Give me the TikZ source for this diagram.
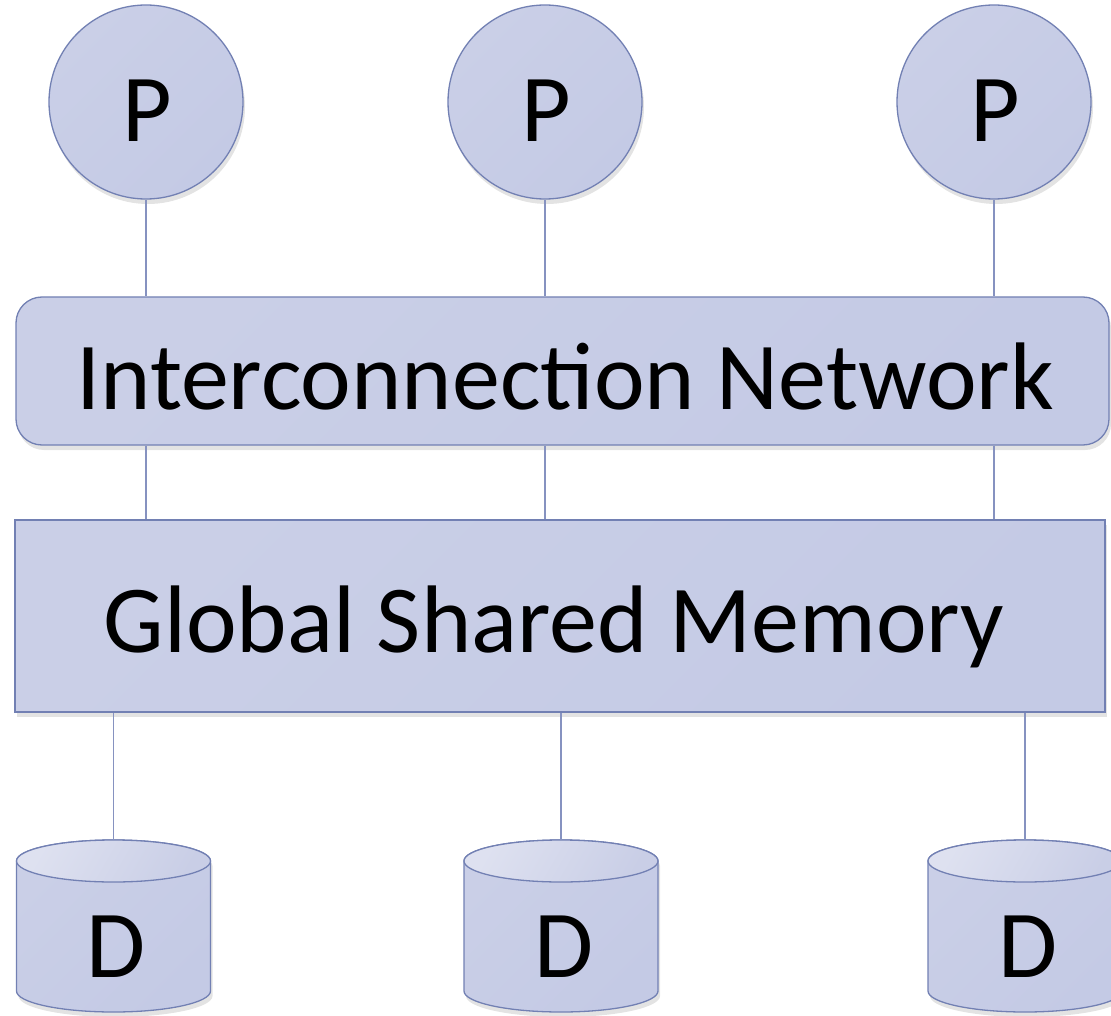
\documentclass[tikz,border=0pt]{standalone}
\usepackage{fontspec}
\setmainfont{Carlito}
\usetikzlibrary{shadows}
\definecolor{fillA}{HTML}{CACFE7}
\definecolor{fillB}{HTML}{B3BBDA}
\definecolor{fillC}{HTML}{C4CAE5}
\definecolor{topA}{HTML}{DEE1F0}
\definecolor{topB}{HTML}{C9CEE6}
\definecolor{edge}{HTML}{7280B3}
\definecolor{wire}{HTML}{8692C0}
\tikzset{
  shade3/.style={top color=fillA, middle color=fillB, bottom color=fillC, shading angle=45},
  soft/.style={drop shadow={opacity=0.22, shadow xshift=2pt, shadow yshift=-5pt}},
  proc/.style={circle, minimum size=194pt, inner sep=0pt, draw=edge, line width=1.3pt, shade3, soft},
  netbox/.style={rectangle, rounded corners=26pt, minimum width=1093pt, minimum height=148pt, inner sep=0pt, draw=edge, line width=1.3pt, shade3, soft},
  membox/.style={rectangle, minimum width=1090pt, minimum height=192pt, inner sep=0pt, draw=edge, line width=1.3pt, shade3, soft},
  lbl/.style={anchor=base, inner sep=0pt, font=\fontsize{96pt}{100pt}\selectfont, text=black},
  wireline/.style={draw=wire, line width=1.3pt},
  cylbody/.style={draw=edge, line width=1.3pt, shade3, soft},
  cyltop/.style={draw=edge, line width=1.3pt, top color=topA, bottom color=topB, shading angle=60},
}
\newcommand{\diskcyl}[2]{%
  \path[cylbody] (#1-97,861) -- (#1-97,991) arc (180:360:97pt and 21pt) -- (#1+97,861) arc (0:180:97pt and 21pt) -- cycle;
  \path[cyltop] (#1,861) ellipse (97pt and 21pt);
  \coordinate (#2) at (#1,840);
}
\begin{document}
\begin{tikzpicture}[x=1pt,y=-1pt]
\useasboundingbox (0,0) rectangle (1111,1016);
\clip (0,0) rectangle (1111,1016);
% processors
\node[proc] (p1) at (146,102) {};
\node[proc] (p2) at (545,102) {};
\node[proc] (p3) at (994,102) {};
\node[lbl] (lp1) at (147,142) {P};
\node[lbl] (lp2) at (546,142) {P};
\node[lbl] (lp3) at (995,142) {P};
% network and memory
\node[netbox] (net) at (562.5,371) {};
\node[lbl] (lnet) at (565,409) {Interconnection Network};
\node[membox] (mem) at (560,616) {};
\node[lbl] (lmem) at (554,652) {Global Shared Memory};
% disks
\diskcyl{113.5}{dt1}
\diskcyl{561}{dt2}
\diskcyl{1025}{dt3}
\node[lbl] (ld1) at (116,977) {D};
\node[lbl] (ld2) at (564,977) {D};
\node[lbl] (ld3) at (1028,977) {D};
% connectors
\draw[wireline] (p1.south) -- (p1.south |- net.north);
\draw[wireline] (p2.south) -- (p2.south |- net.north);
\draw[wireline] (p3.south) -- (p3.south |- net.north);
\draw[wireline] (p1.south |- net.south) -- (p1.south |- mem.north);
\draw[wireline] (p2.south |- net.south) -- (p2.south |- mem.north);
\draw[wireline] (p3.south |- net.south) -- (p3.south |- mem.north);
\draw[wireline] (dt1 |- mem.south) -- (dt1);
\draw[wireline] (dt2 |- mem.south) -- (dt2);
\draw[wireline] (dt3 |- mem.south) -- (dt3);
\end{tikzpicture}
\end{document}
